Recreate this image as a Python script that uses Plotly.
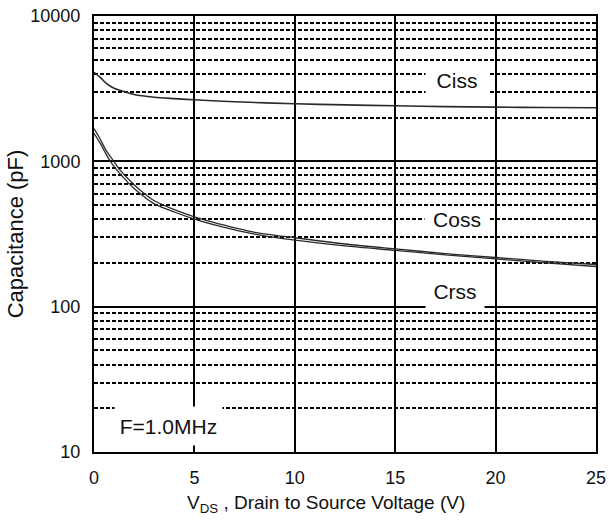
import plotly.graph_objects as go

# ---- data ----
vds_ciss = [0, 0.3, 0.6, 1, 1.5, 2, 3, 4, 5, 7, 10, 12.5, 15, 17.5, 20, 22.5, 25]
ciss = [4100, 3800, 3450, 3180, 3020, 2880, 2760, 2700, 2650, 2570, 2490, 2445, 2410, 2380, 2360, 2345, 2335]

vds_coss = [0, 0.3, 0.6, 0.9, 1.3, 2, 2.5, 3, 4, 5, 6, 7, 8, 10, 12.5, 15, 17.5, 20, 22.5, 25]
coss_upper = [1680, 1430, 1190, 1040, 870, 690, 600, 535, 465, 415, 378, 349, 325, 298, 270, 250, 232, 218, 205, 195]
coss_lower = [1560, 1340, 1120, 960, 820, 650, 570, 510, 448, 400, 365, 338, 316, 287, 262, 244, 227, 213, 200, 189]

x_ticks = [0, 5, 10, 15, 20, 25]
y_ticks = [10, 100, 1000, 10000]
y_ticktext = ["10", "100", "1000", "10000"]
y_minor = [m * d for d in (10, 100, 1000) for m in range(2, 10)]

labels = ["Ciss", "Coss", "Crss", "F=1.0MHz"]
label_x = [18.1, 18.1, 18.0, 3.69]
label_logy = [3.56, 2.60, 2.108, 1.179]
label_w = [62, 64, 58, 107]
label_h = [26, 24, 36, 38]

x_title = "V<sub>DS</sub> , Drain to Source Voltage (V)"
y_title = "Capacitance (pF)"

FONT = "Liberation Sans, Arial, sans-serif"

fig = go.Figure()
line_style = dict(color="#2a2a2a", width=1.6, shape="spline", smoothing=0.8)
fig.add_trace(go.Scatter(x=vds_ciss, y=ciss, mode="lines", line=line_style, name="Ciss"))
fig.add_trace(go.Scatter(x=vds_coss, y=coss_upper, mode="lines", line=dict(line_style, width=1.3), name="Coss"))
fig.add_trace(go.Scatter(x=vds_coss, y=coss_lower, mode="lines", line=dict(line_style, width=1.3), name="Crss"))

for t, x, y, w, h in zip(labels, label_x, label_logy, label_w, label_h):
    fig.add_annotation(x=x, y=y, xref="x", yref="y", text=t, showarrow=False,
                       bgcolor="white", width=w, height=h, borderpad=0,
                       font=dict(family=FONT, size=21, color="#111"))

# x-axis title as a paper-anchored annotation (slightly left of centre, like the reference)
fig.add_annotation(x=0.462, y=0, xref="paper", yref="paper", xanchor="center", yanchor="middle",
                   yshift=-52, text=x_title, showarrow=False,
                   font=dict(family=FONT, size=19, color="#111"))

fig.update_layout(
    width=609, height=521,
    margin=dict(l=94, r=13, t=16, b=69),
    paper_bgcolor="white", plot_bgcolor="white",
    showlegend=False,
    font=dict(family=FONT, color="#111"),
)
fig.update_xaxes(
    range=[0, 25], tickvals=x_ticks, ticks="", automargin=False,
    showgrid=True, gridcolor="black", gridwidth=1.5,
    showline=True, linecolor="black", linewidth=2, mirror=True,
    zeroline=False, ticklabeloverflow="allow",
    tickfont=dict(family=FONT, size=18, color="#111"),
    ticklabelstandoff=8,
)
fig.update_yaxes(
    type="log", range=[1, 4], tickvals=y_ticks, ticktext=y_ticktext, ticks="", automargin=False,
    showgrid=True, gridcolor="black", gridwidth=1.5,
    showline=True, linecolor="black", linewidth=2, mirror=True,
    zeroline=False, ticklabeloverflow="allow",
    tickfont=dict(family=FONT, size=18, color="#111"),
    ticklabelstandoff=8,
    minor=dict(tickvals=y_minor, showgrid=True, gridcolor="black",
               gridwidth=1.5, griddash="4px,2px", ticks=""),
    title=dict(text=y_title, font=dict(family=FONT, size=22, color="#111"), standoff=1),
)

# remove the default 8px page margin so the figure fills the 609x521 window exactly
fig.write_html("out.html",
               config={"displayModeBar": False},
               post_script="document.body.style.margin='0';document.body.style.overflow='hidden';")
